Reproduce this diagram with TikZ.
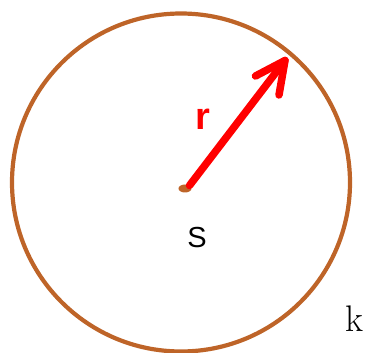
\documentclass[tikz,border=0pt]{standalone}
\usepackage{fontspec}
\newfontfamily\arialish{Liberation Sans}
\definecolor{rim}{RGB}{190,100,40}
\definecolor{arrowred}{RGB}{255,0,0}
\begin{document}
\begin{tikzpicture}[x=1pt,y=-1pt,
  rimline/.style={draw=rim,line width=4.2pt},
  radiusline/.style={draw=arrowred,line width=7.5pt,line cap=round,line join=round}]
\useasboundingbox (0,0) rectangle (368,353);
\coordinate (S) at (181,182.5);
\coordinate (A) at (189.5,185.5);
\coordinate (T) at (285,60.5);
\coordinate (L) at (255.5,76);
\coordinate (R) at (279,95);
\draw[rimline] (S) circle[radius=169];
\fill[rim] (185,188.5) ellipse[x radius=6.5, y radius=4];
\draw[radiusline] (A) -- (T);
\draw[radiusline] (L) -- (T) -- (R);
\node[text=arrowred,font=\arialish\bfseries\fontsize{38}{42}\selectfont] (r) at (203,119) {r};
\node[font=\arialish\fontsize{29}{32}\selectfont] (s) at (197,238) {S};
\node[font=\fontsize{37}{40}\selectfont] (k) at (354,319) {k};
\end{tikzpicture}
\end{document}
